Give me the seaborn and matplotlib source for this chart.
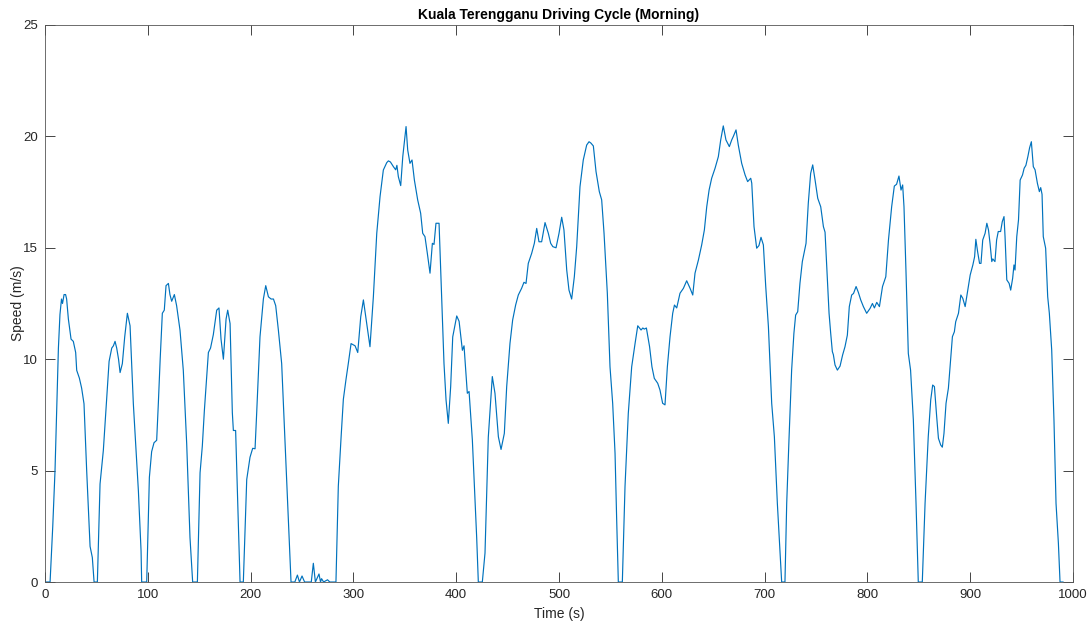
import numpy as np
import pandas as pd
import matplotlib
matplotlib.use('Agg')
import matplotlib.pyplot as plt
import seaborn as sns

# speed trace (time in s, speed in m/s)
time_s = [
    0, 4.9, 7.5, 9.7, 11.5, 13, 14.5, 16, 17, 18.5, 20, 21, 22.7, 25.3, 27.5, 29.8, 30.8, 33.4, 35.6, 37.9,
    40.5, 43.8, 46, 47.7, 50.9, 53.5, 56.7, 60, 62.3, 64.9, 66.5, 68.1, 69.7, 71.5, 73, 75.2, 77.5, 80.1, 82.7, 85.9,
    90.8, 93.4, 94, 98.9, 101.5, 103.7, 106, 108.6, 110.2, 112, 114.1, 116, 117.7, 120, 121.5, 123.2, 125.8, 128, 131.3, 134.5,
    137.8, 141, 143.6, 148.2, 150.8, 153, 155, 157, 158.9, 161, 163.7, 167, 169.2, 171.2, 173.5, 176.1, 177.7, 180, 182.2, 183.2,
    185.4, 187, 189.7, 192.9, 196.2, 199.4, 202, 204.3, 205.9, 209.1, 212.4, 214.7, 217.3, 219.9, 222.2, 224.4, 227, 230.2, 233.5, 236.7,
    239.3, 243, 245.5, 247.5, 250, 252.5, 259, 261, 263, 266.5, 268, 269, 271, 274.8, 277, 283, 285.3, 288, 290.2, 292.8,
    295, 297.7, 301.6, 304.2, 307.1, 309.7, 312.9, 316.1, 319.4, 322.7, 325.9, 329.1, 332.4, 334, 336, 338.9, 341.1, 342.3, 343.7, 346,
    348, 351.2, 352.8, 355, 357, 359.3, 362.5, 365.4, 367.4, 369.6, 371.9, 374.5, 376.8, 378.4, 380.3, 383.3, 384.9, 388.1, 390.1, 392.3,
    394.6, 396.6, 400.5, 402.8, 406, 407.6, 410.8, 412.5, 415.7, 419.9, 421.5, 425.4, 428, 431.2, 435.1, 437.7, 441, 443.6, 446.8, 449.1,
    452.3, 454.9, 457.8, 460.4, 463.6, 465.9, 467.9, 470.1, 473.4, 476, 478.3, 480.5, 483.1, 486.4, 489.6, 491.9, 494, 497.1, 500, 502.6,
    504.8, 507.5, 509.7, 512.3, 514.9, 517.2, 520.4, 523.6, 526.9, 529.2, 531, 533.4, 536, 539.2, 541.5, 543.8, 547, 549.6, 552.2, 554.5,
    556.1, 557.7, 561.6, 564.2, 567.4, 570.7, 574, 576.6, 579.8, 581.5, 583, 585, 588.1, 590.4, 592.7, 596, 598.2, 600.8, 603.1, 605.4,
    608, 610.6, 612.3, 614.5, 617.7, 621, 624.2, 627.5, 630.1, 632.3, 635.6, 638.8, 641.4, 643.7, 646, 648.5, 651.8, 655, 657.3, 659.8,
    662.4, 665.7, 668, 669.6, 672.2, 674.4, 677.7, 681, 683.5, 686.5, 687.5, 689.7, 692.3, 694.5, 696.5, 698.8, 701.1, 703.7, 706.9, 709.5,
    712.4, 715, 716.6, 719.8, 721.5, 723.7, 726.3, 728.5, 730.2, 732.2, 734.4, 736.7, 738.6, 740.3, 742.5, 744.8, 746.8, 749.1, 751.7, 754.6,
    757.2, 758.8, 761.1, 762.7, 764.3, 765.9, 766.9, 768.5, 770.8, 773.4, 775.9, 778.2, 780.5, 782.4, 784.7, 786.5, 789, 791.2, 793.5, 796.1,
    799.3, 802.6, 804.9, 806.8, 809.1, 811.7, 814.7, 817.9, 820.5, 823.6, 826.2, 828.4, 830.7, 832.7, 834.3, 835.6, 837.5, 839.8, 842, 844.7,
    847.3, 849.5, 853.4, 856.1, 859.2, 861.6, 863.5, 865.2, 867.4, 869.1, 871.3, 872.9, 874.5, 876.5, 878.8, 880.4, 882.7, 884.6, 885.9, 888.6,
    890.9, 892.8, 895.1, 897.4, 900, 902.6, 904.3, 905.5, 907.2, 909.1, 910.5, 912.2, 914.5, 916.2, 917.8, 919.3, 921, 922, 924.1, 925.7,
    927.3, 929.6, 931.2, 932.9, 933.9, 935.6, 937.9, 939.4, 941.3, 942.6, 943.6, 945.3, 947, 948.6, 950.9, 952.5, 954.2, 956.1, 957.8, 959.5,
    961.4, 963.1, 965.4, 967.3, 968.6, 969.9, 971.1, 973.4, 975.4, 977, 979.3, 981.5, 983.5, 985.8, 987.4, 990.5,
]
speed_ms = [
    0, 0, 2.5, 5.0, 8.0, 10.5, 12.0, 12.7, 12.5, 12.9, 12.9, 12.7, 11.8, 10.9, 10.8, 10.3, 9.5, 9.15, 8.7, 8.0,
    5.0, 1.6, 1.1, 0, 0, 4.4, 5.9, 8.3, 9.9, 10.5, 10.6, 10.8, 10.5, 10.0, 9.4, 9.8, 11.0, 12.06, 11.5, 8.0,
    4.1, 1.4, 0, 0, 4.7, 5.85, 6.25, 6.36, 8.0, 10.0, 12.06, 12.2, 13.3, 13.4, 12.9, 12.6, 12.9, 12.4, 11.3, 9.5,
    6.2, 2.0, 0, 0, 4.9, 6.1, 7.7, 9.0, 10.3, 10.5, 11.1, 12.2, 12.3, 10.9, 10.0, 11.8, 12.2, 11.6, 7.6, 6.8,
    6.8, 4.3, 0, 0, 4.6, 5.6, 6.0, 5.98, 7.6, 11.0, 12.7, 13.3, 12.8, 12.7, 12.7, 12.4, 11.3, 9.8, 6.2, 2.8,
    0, 0, 0.31, 0, 0.27, 0, 0, 0.84, 0, 0.36, 0, 0.15, 0, 0.1, 0, 0, 4.3, 6.5, 8.2, 9.1,
    9.8, 10.7, 10.6, 10.3, 11.9, 12.66, 11.6, 10.56, 12.8, 15.65, 17.3, 18.49, 18.82, 18.9, 18.85, 18.64, 18.5, 18.7, 18.19, 17.79,
    19.09, 20.44, 19.39, 18.79, 18.94, 18.04, 17.15, 16.55, 15.65, 15.5, 14.75, 13.86, 15.2, 15.15, 16.1, 16.1, 14.0, 9.81, 8.17, 7.12,
    8.77, 11.0, 11.94, 11.7, 10.4, 10.6, 8.47, 8.55, 6.37, 2.0, 0, 0, 1.3, 6.5, 9.22, 8.47, 6.52, 5.95, 6.67, 8.77,
    10.71, 11.76, 12.43, 12.88, 13.18, 13.45, 13.4, 14.3, 14.75, 15.2, 15.87, 15.27, 15.27, 16.13, 15.65, 15.2, 15.05, 15.0, 15.65, 16.37,
    15.8, 14.0, 13.1, 12.7, 13.7, 15.05, 17.74, 18.94, 19.61, 19.76, 19.7, 19.57, 18.42, 17.52, 17.15, 15.65, 12.96, 9.66, 8.02, 5.78,
    2.78, 0, 0, 4.28, 7.57, 9.66, 10.71, 11.5, 11.31, 11.4, 11.35, 11.4, 10.56, 9.66, 9.14, 8.92, 8.62, 8.02, 7.95, 9.66,
    11.01, 12.06, 12.43, 12.3, 12.96, 13.18, 13.52, 13.18, 12.88, 13.86, 14.45, 15.13, 15.8, 16.84, 17.59, 18.12, 18.57, 19.09, 19.84, 20.47,
    19.84, 19.54, 19.84, 20.0, 20.29, 19.61, 18.79, 18.27, 17.97, 18.12, 17.9, 15.95, 14.98, 15.1, 15.47, 15.13, 13.26, 11.46, 8.02, 6.52,
    3.53, 1.29, 0, 0, 3.53, 6.37, 9.51, 11.16, 11.98, 12.13, 13.41, 14.38, 14.82, 15.2, 17.0, 18.34, 18.72, 18.04, 17.22, 16.84,
    15.95, 15.7, 13.56, 12.06, 11.16, 10.34, 10.2, 9.74, 9.51, 9.69, 10.19, 10.56, 11.08, 12.36, 12.88, 12.95, 13.26, 13.0, 12.66, 12.36,
    12.06, 12.28, 12.5, 12.3, 12.55, 12.36, 13.26, 13.7, 15.35, 16.84, 17.77, 17.85, 18.22, 17.59, 17.82, 16.84, 14.0, 10.26, 9.51, 7.27,
    3.53, 0, 0, 3.53, 6.52, 8.17, 8.84, 8.77, 7.42, 6.45, 6.15, 6.05, 6.67, 8.02, 8.7, 9.66, 11.01, 11.23, 11.68, 12.06,
    12.88, 12.73, 12.36, 13.03, 13.78, 14.23, 14.6, 15.38, 14.83, 14.3, 14.3, 15.35, 15.65, 16.1, 15.8, 15.2, 14.38, 14.5, 14.38, 15.35,
    15.73, 15.73, 16.17, 16.4, 15.5, 13.56, 13.4, 13.1, 13.63, 14.23, 14.0, 15.5, 16.25, 18.04, 18.27, 18.57, 18.7, 19.09, 19.49, 19.76,
    18.64, 18.5, 17.89, 17.52, 17.7, 17.4, 15.5, 14.98, 12.8, 12.06, 10.41, 7.27, 3.53, 1.74, 0, 0,
]

x_ticks = list(range(0, 1001, 100))
y_ticks = [0, 5, 10, 15, 20, 25]

df = pd.DataFrame({'Time (s)': time_s, 'Speed (m/s)': speed_ms})

sns.set_style('white')
plt.rcParams['font.family'] = ['Liberation Sans', 'DejaVu Sans']

fig = plt.figure(figsize=(10.88, 6.24), dpi=100)
ax = fig.add_axes([0.0414, 0.0673, 0.9448, 0.8927])

sns.lineplot(data=df, x='Time (s)', y='Speed (m/s)', ax=ax, color='#0072BD',
             linewidth=0.85, sort=False, estimator=None)

ax.set_xlim(0, 1000)
ax.set_ylim(0, 25)
ax.set_xticks(x_ticks)
ax.set_yticks(y_ticks)
ax.tick_params(direction='in', length=7, width=0.6, colors='#262626',
               labelsize=9.5, top=True, right=True, bottom=True, left=True, pad=5)
for s in ax.spines.values():
    s.set_color('#555555')
    s.set_linewidth(0.6)

ax.set_xlabel('Time (s)', fontsize=10, color='#262626', labelpad=4)
ax.set_ylabel('Speed (m/s)', fontsize=10, color='#262626', labelpad=-1)
ax.set_title('Kuala Terengganu Driving Cycle (Morning)', fontsize=10,
             fontweight='bold', color='black', pad=4)

fig.savefig('out.png', dpi=100)
